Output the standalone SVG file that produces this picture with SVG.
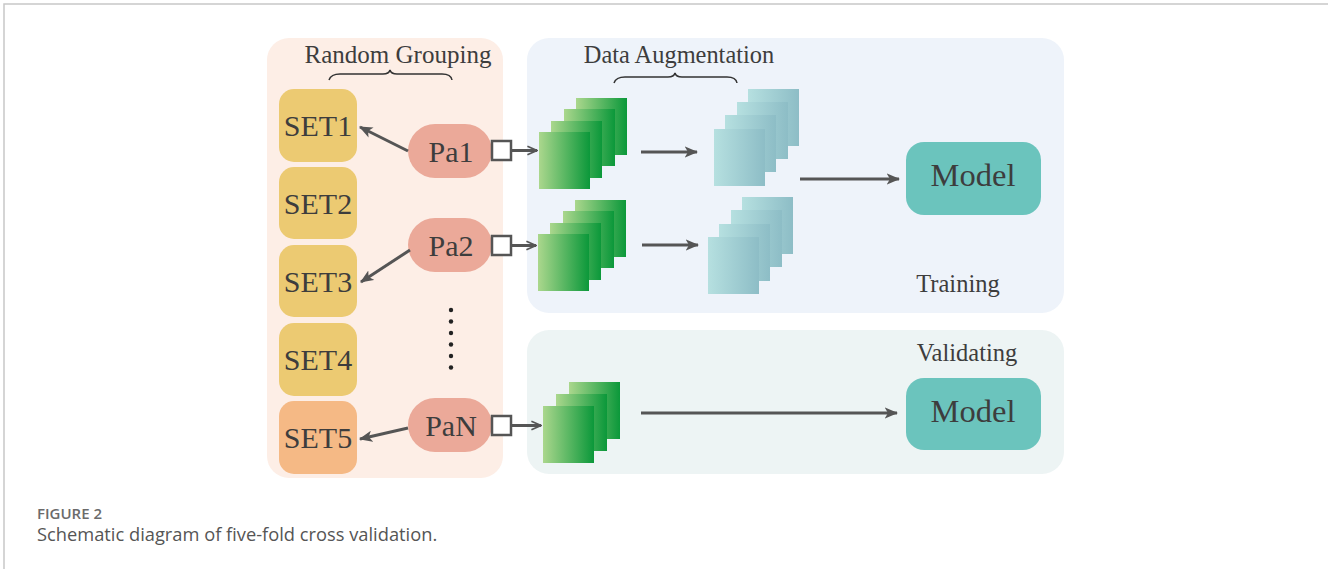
<svg xmlns="http://www.w3.org/2000/svg" width="1328" height="569" viewBox="0 0 1328 569">
<style>
.t{font-family:"Liberation Serif","Times New Roman",serif;fill:#3d3d3d;text-anchor:middle}
.set{fill:#ecca72}
.pa{fill:#eba999}
.model{fill:#6bc4bd}
.g{fill:url(#green)}
.c{fill:url(#teal)}
.sq{fill:#fff;stroke:#555;stroke-width:2.5}
.ln{stroke:#555;stroke-width:3;fill:none}
.brace{stroke:#333;stroke-width:1.5;fill:none}
</style>
<defs>
<linearGradient id="green" x1="0" y1="0" x2="1" y2="0">
<stop offset="0" stop-color="#abd78d"/><stop offset="1" stop-color="#0b983a"/>
</linearGradient>
<linearGradient id="teal" x1="0" y1="0" x2="1" y2="0">
<stop offset="0" stop-color="#b6e0e0"/><stop offset="1" stop-color="#8dbdc6"/>
</linearGradient>
<marker id="ah" viewBox="0 0 12 10" refX="11" refY="5" markerWidth="4.5" markerHeight="3.8" orient="auto" markerUnits="strokeWidth">
<path d="M0,0 L12,5 L0,10 L3,5 z" fill="#555"/>
</marker>
<marker id="ch" viewBox="0 0 10 10" refX="9" refY="5" markerWidth="4" markerHeight="4" orient="auto" markerUnits="strokeWidth">
<path d="M1,1.5 L9,5 L1,8.5" fill="none" stroke="#555" stroke-width="1.4"/>
</marker>
</defs>
<rect width="1328" height="569" fill="#fff"/>
<path d="M4,569 V4 H1328" fill="none" stroke="#c8c8c8" stroke-width="1.5"/>

<g id="panels">
<rect x="267" y="38" width="236" height="440" rx="22" fill="#fdeee6"/>
<rect x="527" y="38" width="537" height="275" rx="22" fill="#eef3fa"/>
<rect x="527" y="330" width="537" height="144" rx="22" fill="#edf4f4"/>
</g>

<g id="labels">
<text class="t" x="398" y="63" font-size="25">Random Grouping</text>
<path class="brace" d="M329,80 Q331,74 340,74 L383,74 Q389,74 390,70 Q391,74 397,74 L442,74 Q451,74 452,80"/>
<text class="t" x="679" y="63" font-size="24.4">Data Augmentation</text>
<path class="brace" d="M614,83 Q616,77 625,77 L668,77 Q674,77 675,73 Q676,77 682,77 L727,77 Q736,77 737,83"/>
<text class="t" x="958" y="292" font-size="24.5">Training</text>
<text class="t" x="967" y="361" font-size="24.5">Validating</text>
</g>

<g id="set1"><rect class="set" x="279" y="89" width="78" height="73" rx="15"/><text class="t" x="318" y="136" font-size="30">SET1</text></g>
<g id="set2"><rect class="set" x="279" y="167" width="78" height="72" rx="15"/><text class="t" x="318" y="214" font-size="30">SET2</text></g>
<g id="set3"><rect class="set" x="279" y="245" width="78" height="72" rx="15"/><text class="t" x="318" y="292" font-size="30">SET3</text></g>
<g id="set4"><rect class="set" x="279" y="323" width="78" height="73" rx="15"/><text class="t" x="318" y="370" font-size="30">SET4</text></g>
<g id="set5"><rect x="279" y="401" width="78" height="73" rx="15" fill="#f5b985"/><text class="t" x="318" y="448" font-size="30">SET5</text></g>

<g id="pa1"><rect class="pa" x="408" y="124" width="84" height="54" rx="27"/><text class="t" x="451" y="162" font-size="30">Pa1</text></g>
<g id="pa2"><rect class="pa" x="408" y="218" width="84" height="54" rx="27"/><text class="t" x="451" y="256" font-size="30">Pa2</text></g>
<g id="pan"><rect class="pa" x="408" y="398" width="84" height="54" rx="27"/><text class="t" x="451" y="436" font-size="30">PaN</text></g>

<g id="dots" fill="#222">
<circle cx="451" cy="310" r="2.2"/><circle cx="451" cy="321.5" r="2.2"/><circle cx="451" cy="333" r="2.2"/>
<circle cx="451" cy="344.5" r="2.2"/><circle cx="451" cy="356" r="2.2"/><circle cx="451" cy="367.5" r="2.2"/>
</g>

<g id="stack1">
<rect class="g" x="576" y="98" width="51" height="57"/><rect class="g" x="564" y="109" width="51" height="57"/>
<rect class="g" x="551" y="121" width="51" height="57"/><rect class="g" x="539" y="132" width="51" height="57"/>
</g>
<g id="aug1">
<rect class="c" x="748" y="89" width="51" height="57"/><rect class="c" x="737" y="102" width="51" height="57"/>
<rect class="c" x="725" y="115" width="51" height="57"/><rect class="c" x="714" y="129" width="51" height="57"/>
</g>
<g id="stack2">
<rect class="g" x="575" y="200" width="51" height="57"/><rect class="g" x="563" y="211" width="51" height="57"/>
<rect class="g" x="550" y="223" width="51" height="57"/><rect class="g" x="538" y="234" width="51" height="57"/>
</g>
<g id="aug2">
<rect class="c" x="742" y="197" width="51" height="57"/><rect class="c" x="731" y="210" width="51" height="57"/>
<rect class="c" x="719" y="224" width="51" height="57"/><rect class="c" x="708" y="237" width="51" height="57"/>
</g>
<g id="stackN">
<rect class="g" x="569" y="382" width="51" height="57"/><rect class="g" x="556" y="394" width="51" height="57"/>
<rect class="g" x="543" y="406" width="51" height="57"/>
</g>

<g id="model1"><rect class="model" x="906" y="142" width="135" height="73" rx="18"/><text class="t" x="973" y="186" font-size="32.5">Model</text></g>
<g id="model2"><rect class="model" x="906" y="378" width="135" height="72" rx="18"/><text class="t" x="973" y="422" font-size="32.5">Model</text></g>

<g id="connectors">
<rect class="sq" x="492" y="141" width="19" height="19"/>
<rect class="sq" x="492" y="236" width="19" height="19"/>
<rect class="sq" x="492" y="416" width="19" height="19"/>
<line class="ln" x1="511" y1="150.5" x2="537" y2="150.5" stroke-width="2.5" marker-end="url(#ch)"/>
<line class="ln" x1="511" y1="245.5" x2="536" y2="245.5" stroke-width="2.5" marker-end="url(#ch)"/>
<line class="ln" x1="511" y1="425.5" x2="541" y2="425.5" stroke-width="2.5" marker-end="url(#ch)"/>
<line class="ln" x1="408" y1="151" x2="360" y2="127" marker-end="url(#ah)" stroke="#666"/>
<line class="ln" x1="410" y1="250" x2="361" y2="282" marker-end="url(#ah)" stroke="#666"/>
<line class="ln" x1="408" y1="428" x2="360" y2="439" marker-end="url(#ah)" stroke="#666"/>
<line class="ln" x1="641" y1="152" x2="697" y2="152" marker-end="url(#ah)"/>
<line class="ln" x1="642" y1="245" x2="698" y2="245" marker-end="url(#ah)"/>
<line class="ln" x1="800" y1="179" x2="899" y2="179" marker-end="url(#ah)"/>
<line class="ln" x1="641" y1="413" x2="897" y2="413" marker-end="url(#ah)"/>
</g>

<g id="caption" font-family="'Open Sans','Noto Sans',sans-serif">
<text x="37" y="519" font-size="15" font-weight="600" fill="#6b6b6b">FIGURE 2</text>
<text x="37" y="541" font-size="18.3" fill="#555">Schematic diagram of five-fold cross validation.</text>
</g>
</svg>
